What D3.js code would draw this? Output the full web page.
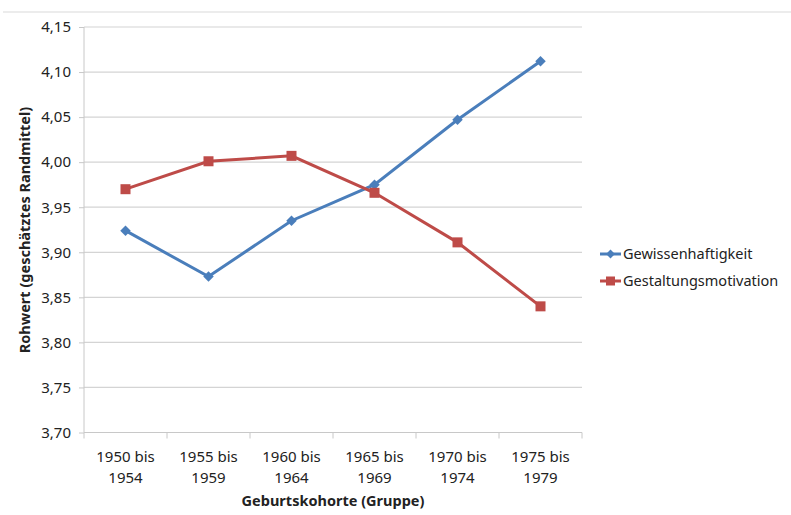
<!DOCTYPE html>
<html><head><meta charset="utf-8">
<script src="https://cdn.jsdelivr.net/npm/d3@7"></script>
<style>body{margin:0;background:#fff}svg{display:block}text{font-family:"Noto Sans",sans-serif;fill:#222}</style>
</head><body>
<svg id="c" width="791" height="515"></svg>
<script>
const categories = [["1950 bis","1954"],["1955 bis","1959"],["1960 bis","1964"],["1965 bis","1969"],["1970 bis","1974"],["1975 bis","1979"]];
const gewissenhaftigkeit = [3.924, 3.873, 3.935, 3.975, 4.047, 4.112];
const gestaltungsmotivation = [3.970, 4.001, 4.007, 3.966, 3.911, 3.840];
const yTicks = [3.70,3.75,3.80,3.85,3.90,3.95,4.00,4.05,4.10,4.15];
const seriesNames = ["Gewissenhaftigkeit","Gestaltungsmotivation"];
const colors = ["#4A7EBB","#BE4B48"];

const svg = d3.select("#c");
const L=84, R=582, T=27, B=432.5;
const x = d3.scaleBand().domain(d3.range(categories.length)).range([L,R]);
const y = d3.scaleLinear().domain([3.70,4.15]).range([B,T]);
const fmt = v => d3.format(".2f")(v).replace(".",",");

svg.append("line").attr("x1",3).attr("x2",791).attr("y1",12).attr("y2",12).attr("stroke","#d9d9d9");

// gridlines
svg.append("g").selectAll("line").data(yTicks.slice(1)).join("line")
 .attr("x1",L).attr("x2",R).attr("y1",d=>y(d)).attr("y2",d=>y(d)).attr("stroke","#d4d4d4").attr("stroke-width",1.2);

// y axis
const ya = svg.append("g").attr("transform",`translate(${L},0)`).call(d3.axisLeft(y).tickValues(yTicks).tickFormat(fmt).tickSize(5).tickPadding(8));
ya.select(".domain").attr("stroke","#c8c8c8").attr("d",`M0,${T}V${B}`);
ya.selectAll(".tick line").attr("stroke","#c8c8c8");
ya.selectAll("text").style("font-size","15px").attr("fill","#333").style("font-family","Noto Sans");

// x axis
const xa = svg.append("g").attr("transform",`translate(0,${B})`);
xa.append("line").attr("x1",L).attr("x2",R).attr("stroke","#c8c8c8").attr("stroke-width",1.2);
const edges = d3.range(categories.length+1).map(i=> i<categories.length ? x(i) : x(i-1)+x.bandwidth());
xa.selectAll(".tk").data(edges).join("line").attr("x1",d=>d).attr("x2",d=>d).attr("y1",0).attr("y2",6).attr("stroke","#c8c8c8");
const xl = xa.selectAll(".lab").data(categories).join("text").attr("text-anchor","middle")
 .attr("x",(d,i)=>x(i)+x.bandwidth()/2).style("font-size","15px").attr("fill","#333");
xl.append("tspan").attr("x",(d,i)=>x(i)+x.bandwidth()/2).attr("y",29).text(d=>d[0]);
xl.append("tspan").attr("x",(d,i)=>x(i)+x.bandwidth()/2).attr("y",50).text(d=>d[1]);

// titles
svg.append("text").attr("x",333).attr("y",506).attr("text-anchor","middle").style("font-size","14.5px").style("font-weight","bold").attr("fill","#111").text("Geburtskohorte (Gruppe)");
svg.append("text").attr("transform","translate(30,230) rotate(-90)").attr("text-anchor","middle").style("font-size","14.5px").style("font-weight","bold").attr("fill","#111").text("Rohwert (geschätztes Randmittel)");

const cx = i => x(i)+x.bandwidth()/2;
const line = d3.line().x((d,i)=>cx(i)).y(d=>y(d));
const data = [gewissenhaftigkeit, gestaltungsmotivation];
data.forEach((s,k)=>{
  svg.append("path").datum(s).attr("d",line).attr("fill","none").attr("stroke",colors[k]).attr("stroke-width",3);
});
// markers
svg.append("g").selectAll("path").data(gewissenhaftigkeit).join("path")
 .attr("d",d3.symbol(d3.symbolDiamond2,70)).attr("transform",(d,i)=>`translate(${cx(i)},${y(d)})`).attr("fill",colors[0]);
svg.append("g").selectAll("rect").data(gestaltungsmotivation).join("rect")
 .attr("x",(d,i)=>cx(i)-5).attr("y",d=>y(d)-5).attr("width",10).attr("height",10).attr("fill",colors[1]);

// legend
const lg = svg.append("g");
seriesNames.forEach((n,k)=>{
  const yy = 254 + k*27;
  lg.append("line").attr("x1",600).attr("x2",621).attr("y1",yy).attr("y2",yy).attr("stroke",colors[k]).attr("stroke-width",3);
  if(k===0) lg.append("path").attr("d",d3.symbol(d3.symbolDiamond2,50)).attr("transform",`translate(610.5,${yy})`).attr("fill",colors[0]);
  else lg.append("rect").attr("x",606).attr("y",yy-4.5).attr("width",9).attr("height",9).attr("fill",colors[1]);
  lg.append("text").attr("x",623).attr("y",yy+5).style("font-size","14.5px").attr("fill","#333").text(n);
});
</script>
</body></html>
